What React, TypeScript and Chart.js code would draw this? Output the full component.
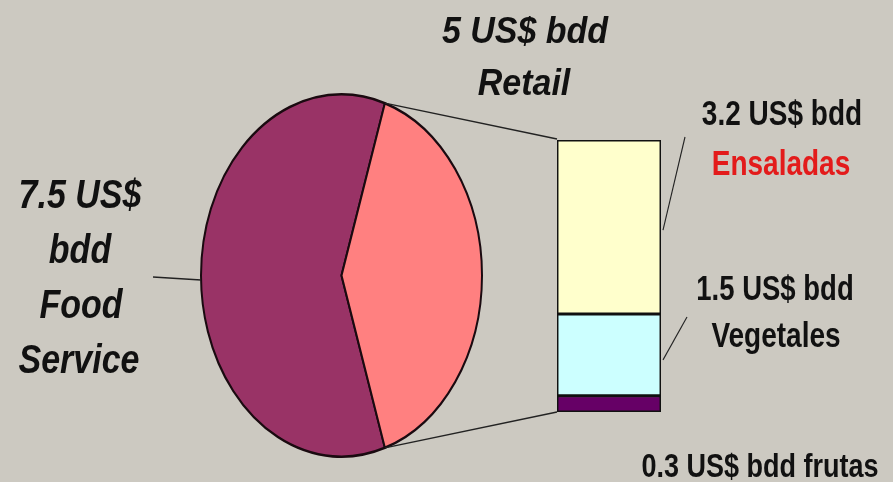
import React, { useEffect, useRef } from "react";
import { Chart, registerables } from "chart.js";

Chart.register(...registerables);

// ---- data ----
const pieLabels = ["Food Service", "Retail"];
const pieValues = [7.5, 5];
const pieColors = ["#993366", "#FF8080"];

const barLabels = ["Retail"];
const barSeriesNames = ["frutas", "Vegetales", "Ensaladas"];
const frutasValues = [0.3];
const vegetalesValues = [1.5];
const ensaladasValues = [3.2];
const barColors = ["#660066", "#CCFFFF", "#FFFFCC"];
const barMax = 5;
const unit = "US$ bdd";

// ---- layout ----
const W = 893;
const H = 482;
const PIE_STRETCH = 182.5 / 141.5;
const BG = "#ccc9c1";
const LINE = "#222";

function drawText(
  ctx: CanvasRenderingContext2D,
  text: string,
  x: number,
  y: number,
  font: string,
  color: string,
  sy: number
) {
  ctx.save();
  ctx.font = font;
  ctx.fillStyle = color;
  ctx.textAlign = "center";
  ctx.textBaseline = "alphabetic";
  ctx.translate(x, y);
  ctx.scale(1, sy);
  ctx.fillText(text, 0, 0);
  ctx.restore();
}

function line(ctx: CanvasRenderingContext2D, x1: number, y1: number, x2: number, y2: number, w = 1.3) {
  ctx.save();
  ctx.strokeStyle = LINE;
  ctx.lineWidth = w;
  ctx.beginPath();
  ctx.moveTo(x1, y1);
  ctx.lineTo(x2, y2);
  ctx.stroke();
  ctx.restore();
}

export default function App() {
  const pieRef = useRef<HTMLCanvasElement | null>(null);
  const barRef = useRef<HTMLCanvasElement | null>(null);

  useEffect(() => {
    const stretchPlugin = {
      id: "stretchPie",
      beforeDatasetsDraw(chart: any) {
        const arc = chart.getDatasetMeta(0).data[0] as any;
        const { x, y } = arc;
        const ctx = chart.ctx;
        ctx.save();
        ctx.translate(x, y);
        ctx.scale(1, PIE_STRETCH);
        ctx.translate(-x, -y);
      },
      afterDatasetsDraw(chart: any) {
        chart.ctx.restore();
      },
    };

    const pie = new Chart(pieRef.current as HTMLCanvasElement, {
      type: "pie",
      data: {
        labels: pieLabels,
        datasets: [
          {
            data: pieValues,
            backgroundColor: pieColors,
            borderColor: "#1a0a10",
            borderWidth: 2,
          },
        ],
      },
      options: {
        responsive: false,
        animation: false,
        events: [],
        rotation: 162,
        layout: { padding: { left: 200, right: W - 483, top: 134, bottom: H - 417 } },
        plugins: { legend: { display: false }, tooltip: { enabled: false } },
      },
      plugins: [stretchPlugin],
    });

    const annotatePlugin = {
      id: "annotate",
      afterDraw(chart: any) {
        const ctx: CanvasRenderingContext2D = chart.ctx;
        const pieMeta = pie.getDatasetMeta(0);
        const food = pieMeta.data[0] as any;
        const retail = pieMeta.data[1] as any;
        const cx = retail.x;
        const cy = retail.y;
        const r = retail.outerRadius;
        const pt = (a: number) => ({ x: cx + r * Math.cos(a), y: cy + r * PIE_STRETCH * Math.sin(a) });

        const frut = chart.getDatasetMeta(0).data[0] as any;
        const veg = chart.getDatasetMeta(1).data[0] as any;
        const ens = chart.getDatasetMeta(2).data[0] as any;
        const barLeft = ens.x - ens.width / 2;
        const barRight = ens.x + ens.width / 2;

        // connectors pie -> bar
        const pTop = pt(retail.startAngle);
        const pBot = pt(retail.endAngle);
        line(ctx, pTop.x, pTop.y, barLeft, ens.y - 1);
        line(ctx, pBot.x, pBot.y, barLeft, frut.base);

        // Food Service leader
        const fMid = pt((food.startAngle + food.endAngle) / 2);
        line(ctx, fMid.x - 48, fMid.y + 1.5, fMid.x, fMid.y + 4.5);

        // bar leaders
        const ensMid = (ens.y + ens.base) / 2;
        line(ctx, 685, 137, barRight + 2, ensMid + 3, 1.1);
        const vegMid = (veg.y + veg.base) / 2;
        line(ctx, 687, 317, barRight + 2, vegMid + 5, 1.1);

        // pie labels
        const fBI = "bold italic 34px 'Liberation Sans', Arial, sans-serif";
        drawText(ctx, `${pieValues[1]} ${unit}`, 525, 43, fBI, "#111", 1.08);
        drawText(ctx, pieLabels[1], 524, 95, fBI, "#111", 1.1);

        const [u1, u2] = unit.split(" ");
        const [fw1, fw2] = pieLabels[0].split(" ");
        drawText(ctx, `${pieValues[0]} ${u1}`, 80, 208, fBI, "#111", 1.2);
        drawText(ctx, u2, 80, 263, fBI, "#111", 1.2);
        drawText(ctx, fw1, 81, 318, fBI, "#111", 1.2);
        drawText(ctx, fw2, 79, 373, fBI, "#111", 1.2);

        // bar labels
        const fB = "bold 28px 'Liberation Sans', Arial, sans-serif";
        drawText(ctx, `${ensaladasValues[0]} ${unit}`, 782, 125, fB, "#111", 1.25);
        drawText(ctx, barSeriesNames[2], 781, 175, fB, "#E31B1B", 1.25);
        drawText(ctx, `${vegetalesValues[0]} ${unit}`, 775, 300, "bold 27.5px 'Liberation Sans', Arial, sans-serif", "#111", 1.25);
        drawText(ctx, barSeriesNames[1], 776, 347, fB, "#111", 1.25);
        drawText(ctx, `${frutasValues[0]} ${unit} ${barSeriesNames[0]}`, 760, 477, "bold 27px 'Liberation Sans', Arial, sans-serif", "#111", 1.25);
      },
    };

    const common = {
      barPercentage: 1,
      categoryPercentage: 1,
      borderColor: "#111",
      borderWidth: 1.8,
      borderSkipped: false as const,
    };

    const bar = new Chart(barRef.current as HTMLCanvasElement, {
      type: "bar",
      data: {
        labels: barLabels,
        datasets: [
          { label: barSeriesNames[0], data: frutasValues, backgroundColor: barColors[0], ...common },
          { label: barSeriesNames[1], data: vegetalesValues, backgroundColor: barColors[1], ...common },
          { label: barSeriesNames[2], data: ensaladasValues, backgroundColor: barColors[2], ...common },
        ],
      },
      options: {
        responsive: false,
        animation: false,
        events: [],
        layout: { padding: { left: 557, right: W - 661, top: 140, bottom: H - 412 } },
        scales: {
          x: { display: false, stacked: true },
          y: { display: false, stacked: true, min: 0, max: barMax },
        },
        plugins: { legend: { display: false }, tooltip: { enabled: false } },
      },
      plugins: [annotatePlugin],
    });

    return () => {
      bar.destroy();
      pie.destroy();
    };
  }, []);

  return (
    <div
      style={{
        position: "fixed",
        left: 0,
        top: 0,
        width: W,
        height: H,
        overflow: "hidden",
        background: BG,
      }}
    >
      <canvas ref={pieRef} width={W} height={H} style={{ position: "absolute", left: 0, top: 0 }} />
      <canvas ref={barRef} width={W} height={H} style={{ position: "absolute", left: 0, top: 0 }} />
    </div>
  );
}
